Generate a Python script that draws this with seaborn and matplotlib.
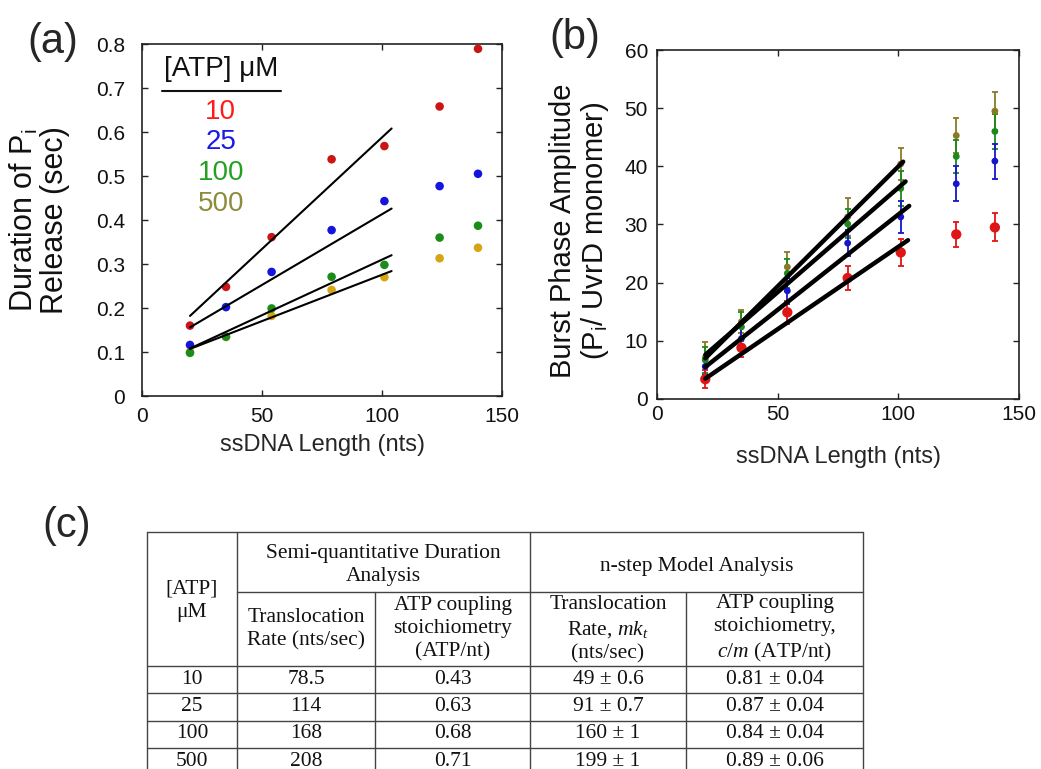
import numpy as np
import pandas as pd
import seaborn as sns
import matplotlib.pyplot as plt

# ---- data ----
length = [20, 35, 54, 79, 101, 124, 140]
atp = ['10', '25', '100', '500']

# (a) duration of Pi release (sec)
dur_10 = [0.160, 0.248, 0.361, 0.538, 0.568, 0.658, 0.789]
dur_25 = [0.116, 0.202, 0.282, 0.377, 0.443, 0.477, 0.505]
dur_100 = [0.098, 0.135, 0.199, 0.271, 0.298, 0.360, 0.387]
dur_500 = [0.100, 0.134, 0.182, 0.241, 0.270, 0.313, 0.337]

# (a) linear fits, end points
fit_a_x = [20, 104]
fit_a_10 = [0.182, 0.608]
fit_a_25 = [0.156, 0.426]
fit_a_100 = [0.108, 0.320]
fit_a_500 = [0.107, 0.284]

# (b) burst phase amplitude (Pi / UvrD monomer)
amp_10 = [3.4, 8.8, 14.9, 20.8, 25.2, 28.3, 29.5]
amp_25 = [5.6, 10.4, 18.6, 26.8, 31.3, 37.0, 40.9]
amp_100 = [6.7, 12.4, 21.6, 30.1, 36.2, 41.7, 46.0]
amp_500 = [7.1, 13.3, 22.7, 31.3, 40.4, 45.3, 49.5]
err_10 = [1.5, 1.5, 2.0, 2.0, 2.3, 2.2, 2.4]
err_25 = [1.5, 2.0, 2.2, 2.2, 2.8, 3.0, 3.0]
err_100 = [2.2, 2.5, 2.5, 2.5, 3.0, 2.8, 3.0]
err_500 = [2.7, 2.0, 2.5, 3.2, 2.7, 3.0, 3.3]

# (b) linear fits, end points
fit_b_10 = ([20, 104], [3.5, 27.3])
fit_b_25 = ([20, 104.5], [5.5, 33.2])
fit_b_100 = ([20, 103], [7.6, 37.4])
fit_b_500 = ([20, 102], [7.0, 40.8])

# (c) table
tab_atp = ['10', '25', '100', '500']
semi_rate = ['78.5', '114', '168', '208']
semi_coupling = ['0.43', '0.63', '0.68', '0.71']
nstep_rate = ['49 ± 0.6', '91 ± 0.7', '160 ± 1', '199 ± 1']
nstep_coupling = ['0.81 ± 0.04', '0.87 ± 0.04', '0.84 ± 0.04', '0.89 ± 0.06']

a_yticks = [0, 0.1, 0.2, 0.3, 0.4, 0.5, 0.6, 0.7, 0.8]
a_ylabels = ['0', '0.1', '0.2', '0.3', '0.4', '0.5', '0.6', '0.7', '0.8']

col_a = {'10': '#CC1414', '25': '#1414DD', '100': '#1A8C1A', '500': '#D4A514'}
col_txt = {'10': '#FF1A1A', '25': '#1A1AE6', '100': '#22A022', '500': '#8C8C3C'}
col_b = {'10': '#E01515', '25': '#1515CC', '100': '#1A8A1A', '500': '#8A7A25'}

sns.set_theme(style='ticks')
plt.rcParams['font.family'] = ['Liberation Sans', 'DejaVu Sans']
plt.rcParams['mathtext.fontset'] = 'custom'
plt.rcParams['mathtext.rm'] = 'Liberation Serif'
plt.rcParams['mathtext.it'] = 'Liberation Serif:italic'
plt.rcParams['mathtext.default'] = 'regular'

W, H = 1041, 769
fig = plt.figure(figsize=(W / 100, H / 100), dpi=100)


def box(l, t, r, b):
    return [l / W, 1 - b / H, (r - l) / W, (b - t) / H]


def style_axes(ax, ypad, xpad):
    for s in ax.spines.values():
        s.set_color('#222222')
        s.set_linewidth(1.2)
    ax.tick_params(direction='in', top=True, right=True, length=4.5, width=1.0,
                   color='#222222', labelsize=15, labelcolor='#111111')
    ax.tick_params(axis='y', pad=ypad)
    ax.tick_params(axis='x', pad=xpad)
    ax.set_xlabel('ssDNA Length (nts)', fontsize=17, labelpad=6)
    ax.set_ylabel('')


# ---- (a) ----
ax_a = fig.add_axes(box(142, 44, 502, 396))
dur = {'10': dur_10, '25': dur_25, '100': dur_100, '500': dur_500}
fits_a = {'10': fit_a_10, '25': fit_a_25, '100': fit_a_100, '500': fit_a_500}
for key in ['500', '100', '25', '10']:
    sns.scatterplot(x=length, y=dur[key], color=col_a[key], s=38, edgecolor='none',
                    ax=ax_a, zorder=3)
for key in atp:
    sns.lineplot(x=fit_a_x, y=fits_a[key], color='black', lw=1.5, ax=ax_a, zorder=4)
ax_a.set_xlim(0, 150)
ax_a.set_ylim(0, 0.8)
ax_a.set_xticks([0, 50, 100, 150])
ax_a.set_yticks(a_yticks)
ax_a.set_yticklabels(a_ylabels)
style_axes(ax_a, 12, 8)

ax_a.text(32.9, 0.743, '[ATP] μM', fontsize=20, ha='center', va='center', color='#111111')
ax_a.plot([8.3, 57.9], [0.693, 0.693], color='#111111', lw=1.5)
for key, yy in zip(atp, [0.646, 0.578, 0.507, 0.437]):
    ax_a.text(32.8, yy, key, fontsize=20, ha='center', va='center', color=col_txt[key])

fig.text(39 / W, 1 - 220 / H, 'Duration of P$_i$\nRelease (sec)', rotation=90,
         ha='center', va='center', fontsize=22, linespacing=1.0, color='#111111')
fig.text(53 / W, 1 - 42 / H, '(a)', fontsize=30, ha='center', va='center')

# ---- (b) ----
ax_b = fig.add_axes(box(657, 50, 1019, 399))
amp = {'10': amp_10, '25': amp_25, '100': amp_100, '500': amp_500}
err = {'10': err_10, '25': err_25, '100': err_100, '500': err_500}
fits_b = {'10': fit_b_10, '25': fit_b_25, '100': fit_b_100, '500': fit_b_500}
for key in ['500', '100', '25', '10']:
    ax_b.errorbar(length, amp[key], yerr=err[key], fmt='none', ecolor=col_b[key],
                  elinewidth=1.3, capsize=2.5, capthick=1.3, zorder=2)
    sns.scatterplot(x=length, y=amp[key], color=col_b[key],
                    s=55 if key == '10' else 24, edgecolor='none', ax=ax_b, zorder=3)
for key in atp:
    fx, fy = fits_b[key]
    sns.lineplot(x=fx, y=fy, color='black', lw=3.2, ax=ax_b, zorder=4)
ax_b.set_xlim(0, 150)
ax_b.set_ylim(0, 60)
ax_b.set_xticks([0, 50, 100, 150])
ax_b.set_yticks([0, 10, 20, 30, 40, 50, 60])
style_axes(ax_b, 6.5, 4.5)
ax_b.xaxis.labelpad = 16

fig.text(580 / W, 1 - 231 / H, 'Burst Phase Amplitude\n(P$_i$/ UvrD monomer)', rotation=90,
         ha='center', va='center', fontsize=21, linespacing=1.1, color='#111111')
fig.text(575 / W, 1 - 38 / H, '(b)', fontsize=30, ha='center', va='center')

# ---- (c) table ----
fig.text(67 / W, 1 - 526 / H, '(c)', fontsize=30, ha='center', va='center')
tab = fig.add_axes([0, 0, 1, 1], zorder=-1)
tab.set_xlim(0, W)
tab.set_ylim(H, 0)
tab.axis('off')

cols = [147, 237, 375, 530, 686, 863]
lc, lw = '#444444', 1.0
tab.plot([cols[0], cols[-1]], [532, 532], color=lc, lw=lw)
tab.plot([cols[1], cols[-1]], [592, 592], color=lc, lw=lw)
rows = [666, 693, 720.5, 747.5, 775]
for yy in rows:
    tab.plot([cols[0], cols[-1]], [yy, yy], color=lc, lw=lw)
for xx in [cols[0], cols[1], cols[3], cols[5]]:
    tab.plot([xx, xx], [532, 780], color=lc, lw=lw)
for xx in [cols[2], cols[4]]:
    tab.plot([xx, xx], [592, 780], color=lc, lw=lw)

serif = dict(family='Liberation Serif', fontsize=15.5, color='#111111', ha='center',
             va='center', linespacing=1.3)
cx = [(cols[i] + cols[i + 1]) / 2 for i in range(5)]
tab.text(cx[0], 601, '[ATP]\nμM', **serif)
tab.text((cols[1] + cols[3]) / 2, 565, 'Semi-quantitative Duration\nAnalysis', **serif)
tab.text((cols[3] + cols[5]) / 2, 567, 'n-step Model Analysis', **serif)
tab.text(cx[1], 629, 'Translocation\nRate (nts/sec)', **serif)
tab.text(cx[2], 629, 'ATP coupling\nstoichiometry\n(ATP/nt)', **serif)
tab.text(cx[3], 629, 'Translocation\nRate, $\\mathit{mk_t}$\n(nts/sec)', **serif)
tab.text(cx[4], 629, 'ATP coupling\nstoichiometry,\n$\\mathit{c/m}$ (ATP/nt)', **serif)

table_cols = [tab_atp, semi_rate, semi_coupling, nstep_rate, nstep_coupling]
for j, vals in enumerate(table_cols):
    for i, v in enumerate(vals):
        tab.text(cx[j], (rows[i] + rows[i + 1]) / 2, v, **serif)

fig.savefig('out.png', dpi=100)
